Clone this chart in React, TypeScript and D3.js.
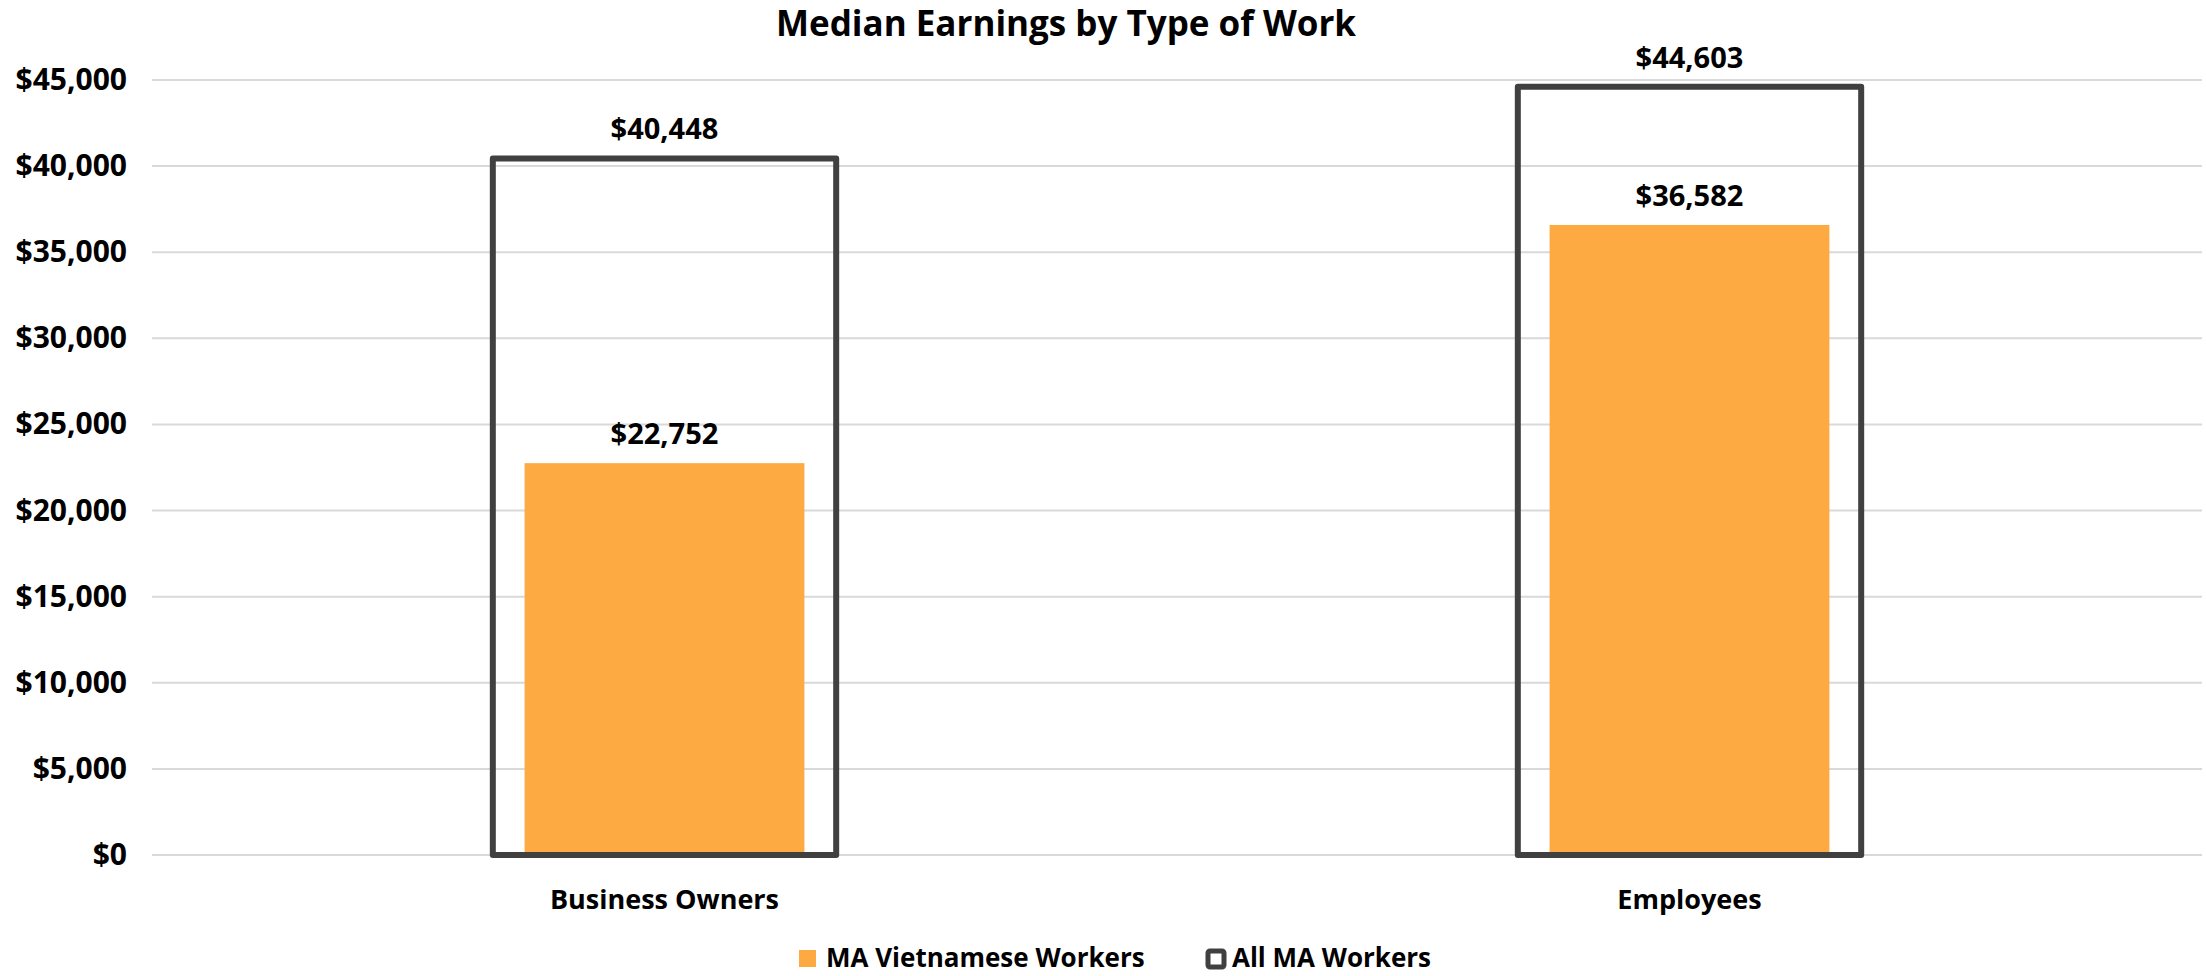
import React from "react";
import { scaleBand, scaleLinear } from "d3";

const categories = ["Business Owners", "Employees"];
const vietnameseWorkers = [22752, 36582];
const allWorkers = [40448, 44603];
const yTicks = [0, 5000, 10000, 15000, 20000, 25000, 30000, 35000, 40000, 45000];
const seriesNames = ["MA Vietnamese Workers", "All MA Workers"];

const width = 2206,
  height = 976;
const font = "'Open Sans', 'Noto Sans', sans-serif";
const orange = "#FDAA43";
const outline = "#404040";

function App() {
  const x = scaleBand().domain(categories).range([152, 2202]);
  const y = scaleLinear().domain([0, 45000]).range([855, 80]);
  const fmt = (v: number) => "$" + v.toLocaleString("en-US");

  const bw = x.bandwidth();
  const boxW = bw * 0.335;
  const barW = bw * 0.273;

  return (
    <svg
      width={width}
      height={height}
      style={{ position: "absolute", left: 0, top: 0, background: "#fff" }}
      fontFamily={font}
      fontWeight="bold"
    >
      <text x={1066} y={36} textAnchor="middle" fontSize={35}>
        Median Earnings by Type of Work
      </text>

      {/* grid + y labels */}
      {yTicks.map((t) => (
        <g key={t}>
          <line x1={152} x2={2202} y1={y(t)} y2={y(t)} stroke="#d9d9d9" strokeWidth={2} />
          <text x={127} y={y(t) + 10} textAnchor="end" fontSize={30}>
            {fmt(t)}
          </text>
        </g>
      ))}

      {categories.map((c, i) => {
        const cx = x(c)! + bw / 2;
        return (
          <g key={c}>
            <rect
              x={cx - barW / 2}
              y={y(vietnameseWorkers[i])}
              width={barW}
              height={y(0) - y(vietnameseWorkers[i])}
              fill={orange}
            />
            <rect
              x={cx - boxW / 2}
              y={y(allWorkers[i])}
              width={boxW}
              height={y(0) - y(allWorkers[i])}
              fill="none"
              stroke={outline}
              strokeWidth={6}
              strokeLinejoin="round"
            />
            <text x={cx} y={y(vietnameseWorkers[i]) - 19} textAnchor="middle" fontSize={29}>
              {fmt(vietnameseWorkers[i])}
            </text>
            <text x={cx} y={y(allWorkers[i]) - 19} textAnchor="middle" fontSize={29}>
              {fmt(allWorkers[i])}
            </text>
            <text x={cx} y={909} textAnchor="middle" fontSize={27}>
              {c}
            </text>
          </g>
        );
      })}

      {/* legend */}
      <rect x={799} y={950} width={17} height={17} fill={orange} />
      <text x={826} y={967} fontSize={26}>
        {seriesNames[0]}
      </text>
      <rect x={1208} y={951} width={16} height={16} fill="none" stroke={outline} strokeWidth={5} rx={2} />
      <text x={1232} y={967} fontSize={26}>
        {seriesNames[1]}
      </text>
    </svg>
  );
}

export default App;
